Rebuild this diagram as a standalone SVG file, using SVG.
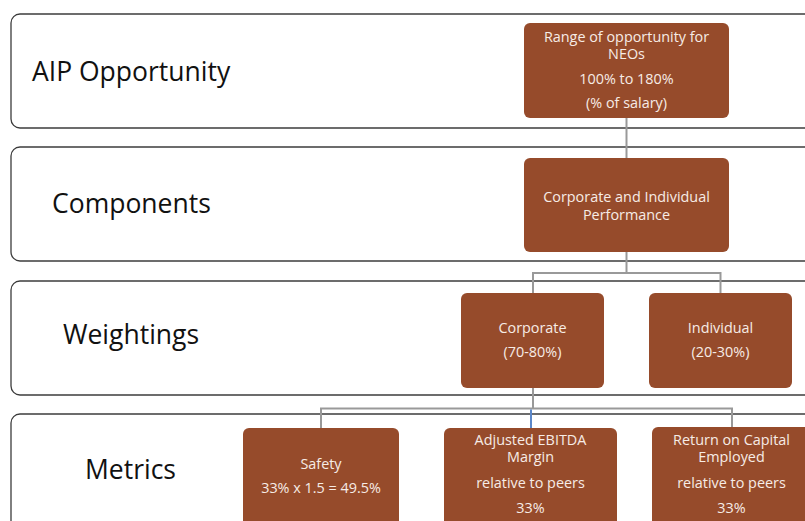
<svg xmlns="http://www.w3.org/2000/svg" width="805" height="521" viewBox="0 0 805 521">
  <style>
    .band { fill: #ffffff; stroke: #3c3c3c; stroke-width: 1.3; }
    .band-label { font-family: "Open Sans", "Liberation Sans", sans-serif; font-size: 26.5px; fill: #111111; }
    .node { fill: #964b2b; }
    .node-text { font-family: "Open Sans", "Liberation Sans", sans-serif; font-size: 14.4px; fill: #f6ece6; text-anchor: middle; }
    .link { fill: none; stroke: #999999; stroke-width: 2; }
    .link-blue { fill: none; stroke: #5b87c9; stroke-width: 2; }
  </style>

  <rect width="805" height="521" fill="#ffffff"/>

  <!-- horizontal level bands -->
  <g id="bands">
    <g id="band-aip">
      <rect class="band" x="11" y="14" width="820" height="114" rx="9"/>
      <text class="band-label" x="32" y="81">AIP Opportunity</text>
    </g>
    <g id="band-components">
      <rect class="band" x="11" y="147" width="820" height="114" rx="9"/>
      <text class="band-label" x="52" y="213">Components</text>
    </g>
    <g id="band-weightings">
      <rect class="band" x="11" y="281" width="820" height="114" rx="9"/>
      <text class="band-label" x="63" y="344">Weightings</text>
    </g>
    <g id="band-metrics">
      <rect class="band" x="11" y="414" width="820" height="130" rx="9"/>
      <text class="band-label" x="85" y="479">Metrics</text>
    </g>
  </g>

  <!-- connectors -->
  <g id="connectors">
    <path class="link" d="M626.5 118 V158"/>
    <path class="link" d="M626.5 252 V273 M533 273 H720.5 M533 272 V293 M720.5 272 V293"/>
    <path class="link" d="M533 388 V408.5 M321 408.5 H732 M321 407.5 V428 M732 407.5 V427"/>
    <path class="link-blue" d="M531 409.5 V428"/>
  </g>

  <!-- nodes -->
  <g id="node-range">
    <rect class="node" x="524" y="23" width="205" height="95" rx="6"/>
    <text class="node-text" x="626.5" y="42">Range of opportunity for</text>
    <text class="node-text" x="626.5" y="59">NEOs</text>
    <text class="node-text" x="626.5" y="84">100% to 180%</text>
    <text class="node-text" x="626.5" y="108">(% of salary)</text>
  </g>

  <g id="node-performance">
    <rect class="node" x="524" y="158" width="205" height="94" rx="6"/>
    <text class="node-text" x="626.5" y="202">Corporate and Individual</text>
    <text class="node-text" x="626.5" y="219.5">Performance</text>
  </g>

  <g id="node-corporate">
    <rect class="node" x="461" y="293" width="143" height="95" rx="6"/>
    <text class="node-text" x="532.5" y="333">Corporate</text>
    <text class="node-text" x="532.5" y="357">(70-80%)</text>
  </g>

  <g id="node-individual">
    <rect class="node" x="649" y="293" width="143" height="95" rx="6"/>
    <text class="node-text" x="720.5" y="333">Individual</text>
    <text class="node-text" x="720.5" y="357">(20-30%)</text>
  </g>

  <g id="node-safety">
    <rect class="node" x="243" y="428" width="156" height="110" rx="6"/>
    <text class="node-text" x="321" y="469">Safety</text>
    <text class="node-text" x="321" y="493">33% x 1.5 = 49.5%</text>
  </g>

  <g id="node-ebitda">
    <rect class="node" x="444" y="428" width="173" height="110" rx="6"/>
    <text class="node-text" x="530.5" y="445">Adjusted EBITDA</text>
    <text class="node-text" x="530.5" y="462">Margin</text>
    <text class="node-text" x="530.5" y="488">relative to peers</text>
    <text class="node-text" x="530.5" y="513">33%</text>
  </g>

  <g id="node-roce">
    <rect class="node" x="652" y="427" width="160" height="111" rx="6"/>
    <text class="node-text" x="731.5" y="445">Return on Capital</text>
    <text class="node-text" x="731.5" y="462">Employed</text>
    <text class="node-text" x="731.5" y="488">relative to peers</text>
    <text class="node-text" x="731.5" y="513">33%</text>
  </g>
</svg>
